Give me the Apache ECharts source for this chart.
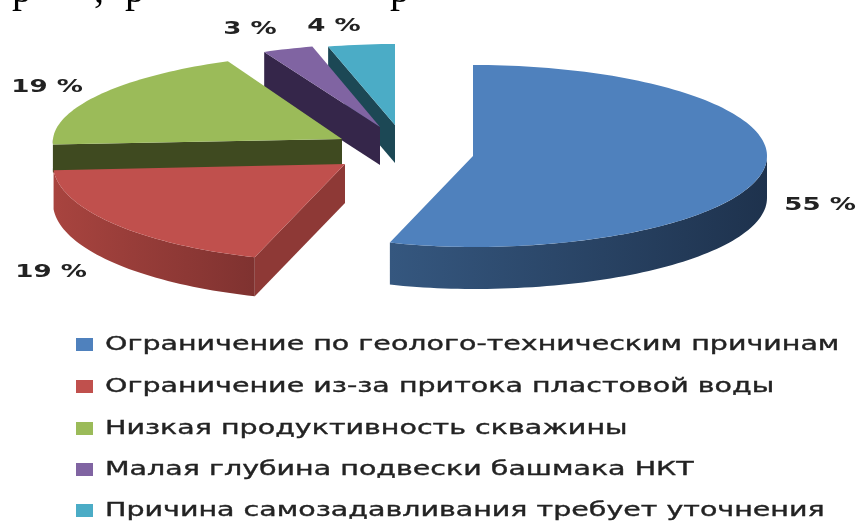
<!DOCTYPE html>
<html><head><meta charset="utf-8">
<style>html,body{margin:0;padding:0;background:#fff}#c{width:859px;height:523px;filter:blur(0.7px)}</style>
<script src="https://cdn.jsdelivr.net/npm/echarts@6/dist/echarts.min.js"></script>
</head><body><div id="c"></div>
<script>
// Data
const categories = ['Ограничение по геолого-техническим причинам','Ограничение из-за притока пластовой воды','Низкая продуктивность скважины','Малая глубина подвески башмака НКТ','Причина самозадавливания требует уточнения'];
const values = [55,19,19,3,4];
// Style
const topColors = ['#4F81BD','#C0504D','#9BBB59','#8064A2','#4BACC6'];
const wallLeft = ['#35577F','#A8443F','#3F4A20','#35264A','#1C4855'];
const wallRight = ['#1E324D','#7F3230','#3F4A20','#35264A','#1C4855'];
const radialWall = ['#22385A','#8E3936','#3F4A20','#35264A','#1C4855'];
// Perspective of each exploded slice: [centre x, centre y, rx right, ry, depth, rx left, shear]
const sliceLayout = [[473,156,294,91,42,269,0],[345,164,292,98,39,292,0],[342,139,289,86,28,289,-0.115],[380,127,272,83,38,272,0],[395,125,269,81,38,269,0]];
const labelPos = [[820,205],[51,272],[47,87],[250,29],[334,26]];
const legendY = [345,387,429,470,511];
const legendScale = 1.5;
const labelScale = 1.45;
const total = values.reduce((a,b)=>a+b,0);
const starts = values.map((_,i)=>values.slice(0,i).reduce((a,b)=>a+b,0)/total*360);

function rad(d){return d*Math.PI/180;}
function renderSlice(i){
  return function(params,api){
    const a0 = starts[i], a1 = a0 + api.value(0)/total*360;
    const [cx,cy,rx,ry,dep,rxL,sh] = sliceLayout[i];
    const pt = (a,d=0)=>{
      const sx=Math.sin(rad(a)), dy=-Math.cos(rad(a))*ry;
      return [cx+sx*(sx<0?rxL:rx)+sh*dy, cy+dy+d];
    };
    const arc = (s,e)=>{const n=Math.max(2,Math.ceil((e-s)/1.5)),o=[];for(let k=0;k<=n;k++)o.push(s+(e-s)*k/n);return o;};
    const children=[];
    [[a0,a0-90],[a1,a1+90]].forEach(([a,nrm])=>{
      if(Math.cos(rad(nrm))<-0.001){
        const p=pt(a);
        children.push({type:'polygon',shape:{points:[[cx,cy],p,[p[0],p[1]+dep],[cx,cy+dep]]},style:{fill:radialWall[i]},silent:true});
      }
    });
    const s=Math.max(a0,90), e=Math.min(a1,270);
    if(e>s){
      const as=arc(s,e);
      const pts=as.map(a=>pt(a)).concat(as.slice().reverse().map(a=>pt(a,dep)));
      children.push({type:'polygon',shape:{points:pts},silent:true,style:{fill:new echarts.graphic.LinearGradient(0,0,1,0,
        [{offset:0,color:wallLeft[i]},{offset:1,color:wallRight[i]}])}});
    }
    const tp=[[cx,cy]].concat(arc(a0,a1).map(a=>pt(a)));
    children.push({type:'polygon',shape:{points:tp},style:{fill:topColors[i]},silent:true});
    children.push({type:'text',x:labelPos[i][0],y:labelPos[i][1],scaleX:labelScale,silent:true,
      style:{text:Math.round(api.value(0))+' %',fontFamily:'DejaVu Sans',fontWeight:'bold',fontSize:18,fill:'#222',align:'center',verticalAlign:'middle'}});
    return {type:'group',children};
  };
}
const legendEls=[];
categories.forEach((name,i)=>{
  legendEls.push({type:'rect',shape:{x:76,y:legendY[i]-7,width:17,height:13},style:{fill:topColors[i]}});
  legendEls.push({type:'text',x:105,y:legendY[i],scaleX:legendScale,style:{text:name,fontFamily:'DejaVu Sans',fontSize:19,fill:'#222',stroke:'#222',lineWidth:0.35,align:'left',verticalAlign:'middle'}});
});
// Descender tips of the cropped line of page text above the figure
[['р',12],[',',94],['р',125],['р',390]].forEach(([t,x])=>{
  legendEls.push({type:'text',x:x,y:11,style:{text:t,fontFamily:'Liberation Serif',fontSize:40,lineHeight:40,fill:'#000',align:'left',verticalAlign:'bottom'}});
});
const chart=echarts.init(document.getElementById('c'),null,{renderer:'canvas'});
chart.setOption({
  animation:false,
  backgroundColor:'#fff',
  series:categories.map((name,i)=>({type:'custom',name,coordinateSystem:'none',z:5-i,data:[values[i]],renderItem:renderSlice(i)})),
  graphic:{elements:legendEls}
});
</script></body></html>
